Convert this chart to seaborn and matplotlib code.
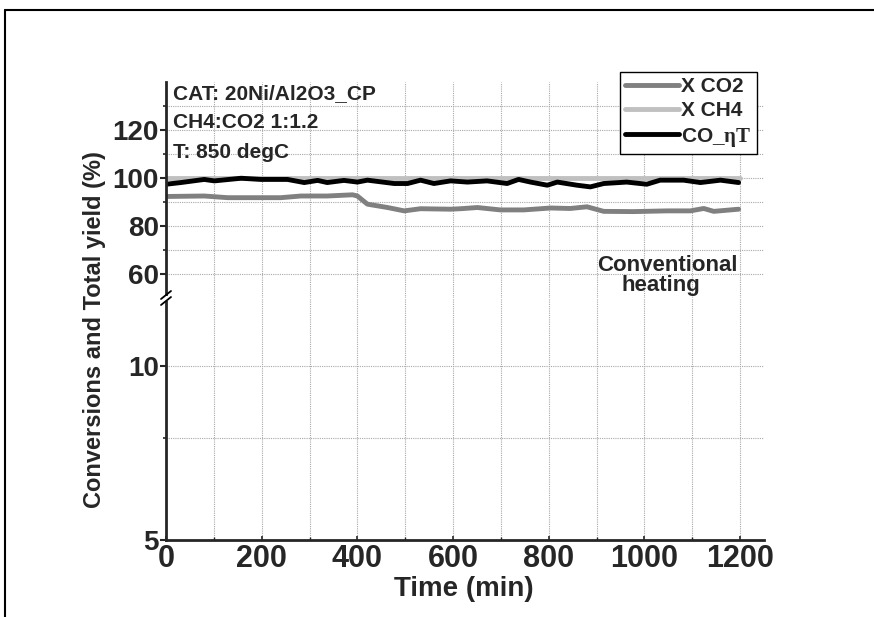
import numpy as np
import pandas as pd
import matplotlib
matplotlib.use("Agg")
import matplotlib.pyplot as plt
import matplotlib.ticker as mticker
from matplotlib.lines import Line2D
import seaborn as sns

# Data
time_co2 = [0, 80, 129, 198, 240, 282, 337, 390, 400, 421, 463, 498, 532, 595, 616,
            651, 699, 748, 804, 845, 880, 915, 977, 1047, 1096, 1124, 1145, 1197]
x_co2 = [92.3, 92.5, 91.8, 91.8, 91.8, 92.5, 92.5, 93.0, 92.5, 89.1, 87.7, 86.3, 87.2, 87.0, 87.2,
         87.7, 86.7, 86.7, 87.5, 87.3, 88.0, 86.1, 86.0, 86.3, 86.3, 87.3, 86.1, 87.0]

time_ch4 = [0, 1200]
x_ch4 = [100, 100]

time_co = [0, 31, 80, 101, 157, 198, 254, 289, 317, 337, 372, 400, 421, 477, 505, 532, 560,
           595, 630, 671, 713, 737, 762, 797, 818, 859, 887, 915, 963, 1005, 1033, 1082,
           1117, 1159, 1197]
co_yield = [97.4, 98.1, 99.4, 98.8, 99.9, 99.4, 99.4, 98.1, 99.0, 98.1, 99.0, 98.3, 99.1, 97.7,
            97.7, 99.1, 97.7, 98.8, 98.3, 98.8, 97.7, 99.4, 98.3, 97.0, 98.3, 97.0, 96.3, 97.7,
            98.3, 97.4, 99.1, 99.1, 98.1, 99.1, 98.1]

sns.set_style("ticks")
plt.rcParams['font.family'] = ['Liberation Sans', 'DejaVu Sans']
plt.rcParams['font.weight'] = 'bold'
plt.rcParams['mathtext.fontset'] = 'custom'
plt.rcParams['mathtext.rm'] = 'Liberation Serif'

W, H = 874, 617
fig = plt.figure(figsize=(W / 100, H / 100), dpi=100)


def rect(l, t, r, b):
    return [l / W, 1 - b / H, (r - l) / W, (b - t) / H]


ax_top = fig.add_axes(rect(166, 82, 764, 298))
ax_bot = fig.add_axes(rect(166, 298, 764, 540))

grid_kw = dict(color='#a8a8a8', linestyle=(0, (1, 1)), linewidth=0.8)

# upper (linear) segment carries the data
sns.lineplot(x=time_co2, y=x_co2, ax=ax_top, color='#808080', lw=3.5, label='X CO2')
sns.lineplot(x=time_ch4, y=x_ch4, ax=ax_top, color='#c0c0c0', lw=3.5, label='X CH4')
sns.lineplot(x=time_co, y=co_yield, ax=ax_top, color='black', lw=3.5,
             label=r'CO_$\mathrm{\eta T}$')

for ax in (ax_top, ax_bot):
    ax.set_xlim(0, 1250)
    ax.xaxis.set_major_locator(mticker.MultipleLocator(200))
    ax.xaxis.set_minor_locator(mticker.MultipleLocator(100))
    ax.grid(True, which='both', **grid_kw)
    ax.set_axisbelow(True)
    ax.spines['top'].set_visible(False)
    ax.spines['right'].set_visible(False)
    ax.spines['left'].set_linewidth(2)
    ax.set_facecolor('none')
    ax.set_xlabel('')
    ax.set_ylabel('')

ax_top.set_ylim(50, 140)
ax_top.yaxis.set_major_locator(mticker.FixedLocator([60, 80, 100, 120]))
ax_top.yaxis.set_minor_locator(mticker.FixedLocator([70, 90, 110, 130]))
ax_top.spines['bottom'].set_visible(False)
ax_top.tick_params(axis='x', which='both', bottom=False, labelbottom=False)
ax_top.tick_params(axis='y', which='major', direction='out', length=4, width=1.5, pad=1, labelsize=20)
ax_top.tick_params(axis='y', which='minor', direction='out', length=2, width=1.2)

# lower (log) segment
ax_bot.set_yscale('log')
ax_bot.set_ylim(5, 13.1)
ax_bot.yaxis.set_major_locator(mticker.FixedLocator([5, 10]))
ax_bot.yaxis.set_major_formatter(mticker.FixedFormatter(['5', '10']))
ax_bot.yaxis.set_minor_locator(mticker.FixedLocator([7.5]))
ax_bot.yaxis.set_minor_formatter(mticker.NullFormatter())
ax_bot.spines['bottom'].set_linewidth(2)
ax_bot.tick_params(axis='y', which='major', direction='out', length=4, width=1.5, pad=1, labelsize=20)
ax_bot.tick_params(axis='y', which='minor', direction='out', length=2, width=1.2)
ax_bot.tick_params(axis='x', which='major', direction='in', length=3, width=1.2, pad=3, labelsize=22)
ax_bot.tick_params(axis='x', which='minor', direction='in', length=2, width=1.0)

# axis break marks
fig.add_artist(plt.Rectangle((162 / W, 1 - 301 / H), 8 / W, 5 / H, transform=fig.transFigure,
                             facecolor='white', edgecolor='none', zorder=5))
for dy in (-3, 3):
    fig.add_artist(Line2D([161 / W, 171 / W], [1 - (302 + dy) / H, 1 - (294 + dy) / H],
                          color='black', lw=1.3, zorder=6))

leg = ax_top.legend(loc='upper right', bbox_to_anchor=(757 / W, 1 - 72 / H),
                    bbox_transform=fig.transFigure, frameon=True, fancybox=False,
                    edgecolor='black', framealpha=1, fontsize=15, handlelength=2.6,
                    handletextpad=0.1, labelspacing=0.25, borderpad=0.25, borderaxespad=0)
leg.get_frame().set_linewidth(1.0)

fig.text(173 / W, 1 - 94 / H, 'CAT: 20Ni/Al2O3_CP', fontsize=15, fontweight='bold', va='center')
fig.text(173 / W, 1 - 123 / H, 'CH4:CO2 1:1.2', fontsize=15, fontweight='bold', va='center')
fig.text(173 / W, 1 - 153 / H, 'T: 850 degC', fontsize=15, fontweight='bold', va='center')
fig.text(667 / W, 1 - 271 / H, 'Conventional', fontsize=16, fontweight='bold', ha='center', va='baseline')
fig.text(661 / W, 1 - 291 / H, 'heating', fontsize=16, fontweight='bold', ha='center', va='baseline')

fig.text(464 / W, 1 - 589 / H, 'Time (min)', fontsize=20, fontweight='bold', ha='center', va='center')
fig.text(95 / W, 1 - 330 / H, 'Conversions and Total yield (%)', fontsize=17, fontweight='bold',
         ha='center', va='center', rotation=90)

# outer frame of the original figure
fig.add_artist(Line2D([5 / W, 1], [1 - 10 / H, 1 - 10 / H], color='black', lw=1.5))
fig.add_artist(Line2D([5 / W, 5 / W], [0, 1 - 10 / H], color='black', lw=1.5))

fig.savefig('out.png', dpi=100)
